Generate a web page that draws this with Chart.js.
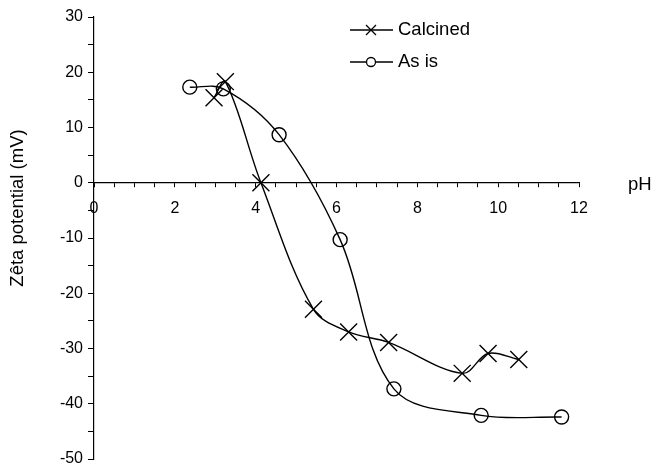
<!DOCTYPE html>
<html>
<head>
<meta charset="utf-8">
<script src="https://cdn.jsdelivr.net/npm/chart.js@4"></script>
<style>
  body { margin: 0; background: #fff; }
  #wrap { width: 653px; height: 464px; }
</style>
</head>
<body>
<div id="wrap"><canvas id="myChart" width="653" height="464"></canvas></div>
<script>
// pH values and zeta potential (mV)
const CALCINED_PH = [2.97, 3.25, 4.13, 5.43, 6.30, 7.29, 9.11, 9.75, 10.51];
const CALCINED_ZETA = [15.4, 18.3, 0, -22.9, -27.0, -28.9, -34.5, -30.9, -32.0];
const ASIS_PH = [2.37, 3.20, 4.58, 6.09, 7.42, 9.58, 11.57];
const ASIS_ZETA = [17.3, 17.0, 8.7, -10.3, -37.3, -42.1, -42.4];
const SERIES_LABELS = ["Calcined", "As is"];
const Y_TITLE = "Zêta potential (mV)";
const X_TITLE = "pH";

const FONT = "'Liberation Sans', Arial, sans-serif";

function toPoints(xs, ys) {
    return xs.map((x, i) => ({ x: x, y: ys[i] }));
}

// Legend, axis titles, drawn the way the original figure places them
const extrasPlugin = {
    id: "extras",
    afterDraw(chart) {
        const ctx = chart.ctx;
        const area = chart.chartArea;
        const lx = area.left + 256;
        const rows = [area.top + 13, area.top + 45];
        ctx.save();
        ctx.strokeStyle = "#000";
        ctx.fillStyle = "#000";
        ctx.lineWidth = 1.3;
        ctx.font = "18.5px " + FONT;
        ctx.textBaseline = "middle";
        rows.forEach((y, i) => {
            ctx.beginPath();
            ctx.moveTo(lx, y);
            ctx.lineTo(lx + 43, y);
            ctx.stroke();
            const cx = lx + 21;
            ctx.beginPath();
            if (i === 0) {
                ctx.moveTo(cx - 5, y - 5);
                ctx.lineTo(cx + 5, y + 5);
                ctx.moveTo(cx + 5, y - 5);
                ctx.lineTo(cx - 5, y + 5);
            } else {
                ctx.fillStyle = "#fff";
                ctx.arc(cx, y, 4.5, 0, Math.PI * 2);
                ctx.fill();
                ctx.fillStyle = "#000";
            }
            ctx.stroke();
            ctx.fillText(SERIES_LABELS[i], lx + 48, y);
        });
        const y0 = chart.scales.y.getPixelForValue(0);
        ctx.fillText(X_TITLE, area.right + 49, y0 + 2);

        ctx.translate(18, 208);
        ctx.rotate(-Math.PI / 2);
        ctx.textAlign = "center";
        ctx.fillText(Y_TITLE, 0, 0);
        ctx.restore();
    }
};

const data1 = {
    datasets: [
        {
            label: SERIES_LABELS[0],
            data: toPoints(CALCINED_PH, CALCINED_ZETA),
            borderColor: "#000",
            borderWidth: 1.4,
            pointStyle: "crossRot",
            pointRadius: 12,
            pointBorderWidth: 1.4,
            pointBorderColor: "#000",
            tension: 0.35,
        },
        {
            label: SERIES_LABELS[1],
            data: toPoints(ASIS_PH, ASIS_ZETA),
            borderColor: "#000",
            borderWidth: 1.4,
            pointStyle: "circle",
            pointRadius: 7,
            pointBorderWidth: 1.4,
            pointBorderColor: "#000",
            pointBackgroundColor: "rgba(255,255,255,0)",
            tension: 0.35,
        },
    ],
};

const config1 = {
    type: "line",
    data: data1,
    plugins: [extrasPlugin],
    options: {
        responsive: false,
        animation: false,
        layout: {
            autoPadding: false,
            padding: { top: 17, right: 74, bottom: 5, left: 0 },
        },
        plugins: {
            legend: { display: false },
            tooltip: { enabled: false },
        },
        scales: {
            x: {
                type: "linear",
                position: { y: 0 },
                min: 0,
                max: 12,
                ticks: {
                    stepSize: 0.5,
                    autoSkip: false,
                    maxRotation: 0,
                    padding: 12,
                    color: "#000",
                    font: { family: FONT, size: 16 },
                    callback: (v) => (v % 2 === 0 ? String(v) : ""),
                },
                grid: {
                    drawOnChartArea: false,
                    drawTicks: true,
                    tickLength: 4,
                    color: "#000",
                },
                border: { display: true, color: "#000", width: 1.2 },
            },
            y: {
                type: "linear",
                min: -50,
                max: 30,
                afterFit: (scale) => {
                    scale.width = 94;
                    scale.paddingTop = 0;
                    scale.paddingBottom = 0;
                },
                ticks: {
                    stepSize: 5,
                    autoSkip: false,
                    padding: 5,
                    color: "#000",
                    font: { family: FONT, size: 16 },
                    callback: (v) => (v % 10 === 0 ? String(v) : ""),
                },
                grid: {
                    drawOnChartArea: false,
                    drawTicks: true,
                    tickLength: 6,
                    color: "#000",
                },
                border: { display: true, color: "#000", width: 1.2 },
            },
        },
    },
};

var ctx = document.getElementById("myChart").getContext("2d");
var myChart = new Chart(ctx, config1);
</script>
</body>
</html>
